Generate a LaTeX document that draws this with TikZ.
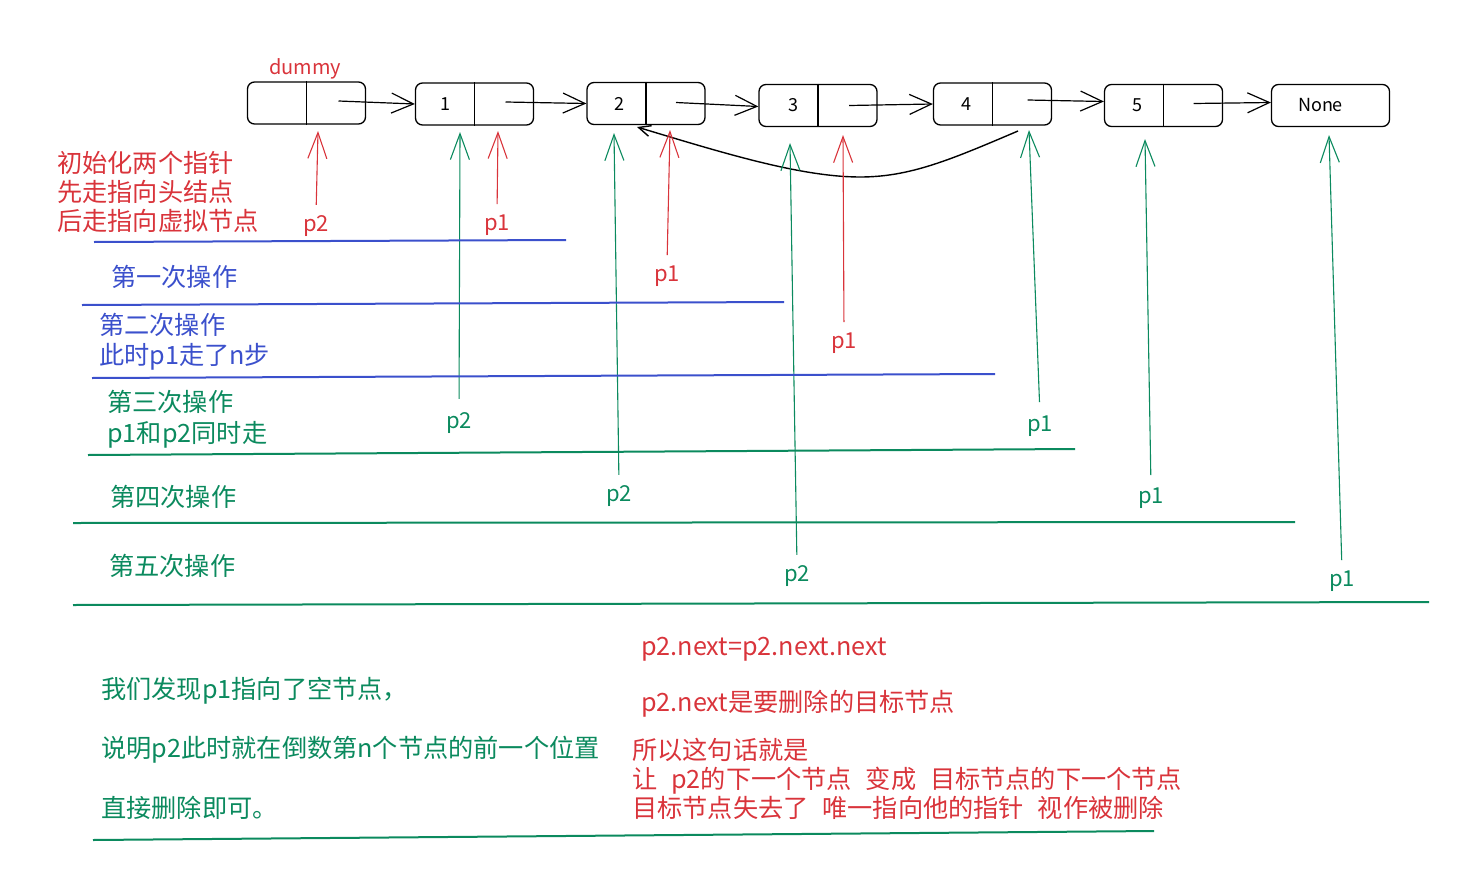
\documentclass[tikz,border=0pt]{standalone}
\usepackage{fontspec}
\setmainfont{Noto Sans CJK SC}
\usetikzlibrary{arrows.meta}
\definecolor{exred}{HTML}{D9343B}
\definecolor{exblue}{HTML}{3B50CC}
\definecolor{exgreen}{HTML}{0B8A5E}
\begin{document}
\begin{tikzpicture}[x=1pt,y=-1pt,
  box/.style={draw=black, line width=1.3pt, rounded corners=7pt, minimum width=118pt, minimum height=42pt, inner sep=0pt},
  num/.style={inner sep=0pt, font=\fontsize{18}{18}\selectfont},
  link/.style={draw=black, line width=1.2pt, -{Straight Barb[length=22pt,width=20pt]}},
  backlink/.style={draw=black, line width=1.4pt, -{Straight Barb[length=12pt,width=11pt]}},
  rptr/.style={draw=exred, line width=1.1pt, -{Straight Barb[length=26pt,width=19pt]}},
  gptr/.style={draw=exgreen, line width=1.1pt, -{Straight Barb[length=26pt,width=19pt]}},
  lab/.style={inner sep=0pt, anchor=base, font=\fontsize{22}{22}\selectfont},
  txt/.style={inner sep=0pt, anchor=base west, font=\fontsize{25.2}{29}\selectfont},
  sepline/.style={line width=2pt},
  divider/.style={draw=black, line width=1.2pt}
]
\useasboundingbox (0,0) rectangle (1483,878);

% boxes
\node[box] (n0) at (306.5,103) {};
\node[box] (n1) at (474.5,104) {};
\node[box] (n2) at (646,103.5) {};
\node[box] (n3) at (818,105.5) {};
\node[box] (n4) at (992.5,104) {};
\node[box] (n5) at (1163.5,105.5) {};
\node[box] (n6) at (1330.5,105.5) {};
\foreach \n in {n0,n1,n2,n3,n4,n5}{\draw[divider] (\n.north) -- (\n.south);}

\node[inner sep=0pt, anchor=base, text=exred, font=\fontsize{20}{20}\selectfont] (dl) at (305,74) {dummy};
\node[num] (t1) at ([xshift=-29pt]n1.center) {1};
\node[num] (t2) at ([xshift=-27pt]n2.center) {2};
\node[num] (t3) at ([xshift=-25pt]n3.center) {3};
\node[num] (t4) at ([xshift=-26pt]n4.center) {4};
\node[num] (t5) at ([xshift=-26pt]n5.center) {5};
\node[num] (t6) at ([xshift=-10pt]n6.center) {None};

% links
\draw[link] ([xshift=32pt,yshift=2pt]n0.center) -- (n1.west);
\draw[link] ([xshift=31pt,yshift=2pt]n1.center) -- (n2.west);
\draw[link] ([xshift=30pt,yshift=1pt]n2.center) -- ([yshift=-1pt]n3.west);
\draw[link] ([xshift=31pt]n3.center) -- (n4.west);
\draw[link] ([xshift=35pt,yshift=4pt]n4.center) -- ([yshift=4pt]n5.west);
\draw[link] ([xshift=30pt,yshift=2pt]n5.center) -- ([yshift=3pt]n6.west);

% back link (p2.next = p2.next.next)
\coordinate (bt) at (1018,131);
\coordinate (bh) at (637,127);
\draw[backlink] (bt) .. controls (950,160) and (910,177) .. (860,177)
                     .. controls (800,177) and (720,152) .. (bh);

% red pointers
\node[lab, text=exred] (r1) at (316,231) {p2};
\coordinate (hr1) at (318,131);
\draw[rptr, shorten <=10pt] (r1.north) -- (hr1);
\node[lab, text=exred] (r2) at (497,230) {p1};
\coordinate (hr2) at (498,131);
\draw[rptr, shorten <=10pt] (r2.north) -- (hr2);
\node[lab, text=exred] (r3) at (667,281) {p1};
\coordinate (hr3) at (670,130);
\draw[rptr, shorten <=10pt] (r3.north) -- (hr3);
\node[lab, text=exred] (r4) at (844,348) {p1};
\coordinate (hr4) at (843,135);
\draw[rptr, shorten <=10pt] (r4.north) -- (hr4);

% green pointers
\node[lab, text=exgreen] (g1) at (459,428) {p2};
\coordinate (hg1) at (460,132);
\draw[gptr, shorten <=13pt] (g1.north) -- (hg1);
\node[lab, text=exgreen] (g2) at (1040,431) {p1};
\coordinate (hg2) at (1029,130);
\draw[gptr, shorten <=13pt] (g2.north) -- (hg2);
\node[lab, text=exgreen] (g3) at (619,501) {p2};
\coordinate (hg3) at (614,133);
\draw[gptr, shorten <=10pt] (g3.north) -- (hg3);
\node[lab, text=exgreen] (g4) at (1151,503) {p1};
\coordinate (hg4) at (1145,139);
\draw[gptr, shorten <=12pt] (g4.north) -- (hg4);
\node[lab, text=exgreen] (g5) at (797,581) {p2};
\coordinate (hg5) at (790,143);
\draw[gptr, shorten <=10pt] (g5.north) -- (hg5);
\node[lab, text=exgreen] (g6) at (1342,586) {p1};
\coordinate (hg6) at (1329,135);
\draw[gptr, shorten <=10pt] (g6.north) -- (hg6);

% separator lines
\draw[sepline, exblue] (94,242) -- (566,240);
\draw[sepline, exblue] (82,305) -- (784,302);
\draw[sepline, exblue] (92,378) -- (995,374);
\draw[sepline, exgreen] (88,455) -- (1075,449);
\draw[sepline, exgreen] (73,523) -- (1295,522);
\draw[sepline, exgreen] (73,605) -- (1429,602);
\draw[sepline, exgreen] (93,840) -- (1154,831);

% left texts
\node[txt, text=exred] (a1) at (57,172) {初始化两个指针};
\node[txt, text=exred] (a2) at (57,201) {先走指向头结点};
\node[txt, text=exred] (a3) at (57,230) {后走指向虚拟节点};
\node[txt, text=exblue] (b1) at (111,286) {第一次操作};
\node[txt, text=exblue] (b2) at (99,334) {第二次操作};
\node[txt, text=exblue] (b3) at (99,364) {此时p1走了n步};
\node[txt, text=exgreen] (c1) at (107,411) {第三次操作};
\node[txt, text=exgreen] (c2) at (107,442) {p1和p2同时走};
\node[txt, text=exgreen] (c3) at (110,506) {第四次操作};
\node[txt, text=exgreen] (c4) at (109,575) {第五次操作};

% bottom texts
\node[txt, text=exgreen] (d1) at (101,698) {我们发现p1指向了空节点，};
\node[txt, text=exgreen] (d2) at (101,757) {说明p2此时就在倒数第n个节点的前一个位置};
\node[txt, text=exgreen] (d3) at (101,817) {直接删除即可。};

\node[txt, text=exred] (e1) at (641,655) {p2.next=p2.next.next};
\node[txt, text=exred] (e2) at (641,711) {p2.next是要删除的目标节点};
\node[txt, text=exred] (e3) at (632,759) {所以这句话就是};
\node[txt, text=exred] (e4) at (632,788) {让\hspace{0.55em}p2的下一个节点\hspace{0.55em}变成\hspace{0.55em}目标节点的下一个节点};
\node[txt, text=exred] (e5) at (632,817) {目标节点失去了\hspace{0.55em}唯一指向他的指针\hspace{0.55em}视作被删除};
\end{tikzpicture}
\end{document}
